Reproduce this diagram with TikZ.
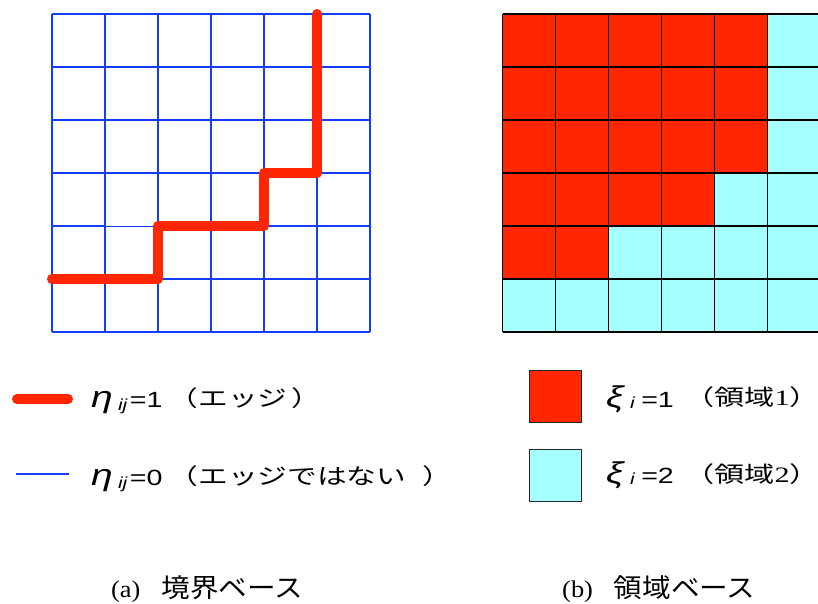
\documentclass[tikz,border=0pt]{standalone}
\usepackage{graphicx}
\usepackage{fontspec}
\setmainfont{Liberation Sans}
\newfontfamily\jpn{Noto Sans CJK JP}
\newfontfamily\srf{Liberation Serif}
\definecolor{gridblue}{RGB}{20,60,255}
\definecolor{edgered}{RGB}{255,38,0}
\definecolor{regcyan}{RGB}{166,255,255}
% #1 symbol, #2 subscript, #3 value, #4 gap after symbol, #5 gap after subscript, #6 subscript drop
\newcommand{\gsym}[6]{\scalebox{1.3}[1]{{\fontsize{30}{30}\selectfont\itshape #1}\hspace{#4}\raisebox{-#6}{\fontsize{16}{16}\selectfont\itshape #2}\hspace{#5}{\fontsize{22}{22}\selectfont =#3}}}
\newcommand{\jleg}[2]{\scalebox{#1}[1]{\fontsize{22}{22}\selectfont\jpn #2}}
\newcommand{\jcap}[2]{\scalebox{1.1}[1]{{\fontsize{24}{24}\selectfont\srf #1}\hspace{19pt}{\fontsize{26}{26}\selectfont\jpn #2}}}
\newcommand{\rpar}{\makebox[0.45em][l]{）}}
\tikzset{
  txt/.style={inner sep=0pt, anchor=base west},
  bluegrid/.style={gridblue, line width=2pt},
  blackgrid/.style={black, line width=1.3pt},
  edgepath/.style={edgered, line width=10pt, line cap=round, line join=round},
  swatch/.style={draw=black!85, line width=1pt, minimum size=52pt, inner sep=0pt}
}
\begin{document}
\begin{tikzpicture}[x=1pt,y=-1pt]
\useasboundingbox (0,0) rectangle (818,604);
% ---- left grid (boundary based)
\foreach \k in {0,...,6} {
  \draw[bluegrid] (52+53*\k,14) -- (52+53*\k,332);
}
\foreach \k in {0,1,2,3,5,6} {
  \draw[bluegrid] (52,14+53*\k) -- (370,14+53*\k);
}
\draw[bluegrid] (52,226) -- (105,226);
\draw[gridblue, line width=0.6pt] (105,226) -- (158,226);
\draw[bluegrid] (158,226) -- (370,226);
\draw[edgepath] (52,279) -- (158,279) -- (158,226) -- (264,226) -- (264,173) -- (317,173) -- (317,14);
% ---- right grid (region based)
\fill[regcyan] (502.5,14) rectangle (820.5,332);
\foreach \r/\n in {0/5,1/5,2/5,3/4,4/2} {
  \fill[edgered] (502.5,14+53*\r) rectangle ++(53*\n,53);
}
\foreach \k in {0,...,6} {
  \draw[blackgrid] (502.5+53*\k,14) -- (502.5+53*\k,332);
  \draw[blackgrid] (502.5,14+53*\k) -- (820.5,14+53*\k);
}
% ---- left legend
\coordinate (l1a) at (17,399);
\coordinate (l1b) at (68,399);
\draw[edgepath] (l1a) -- (l1b);
\coordinate (l2a) at (16,474);
\coordinate (l2b) at (69,474);
\draw[gridblue, line width=2pt] (l2a) -- (l2b);
\node[txt] (eta1) at (91,407) {\gsym{η}{ij}{1}{4pt}{2pt}{3pt}};
\node[txt] (jp1) at (168.5,406) {\jleg{1.35}{（エッジ\hspace{3pt}\rpar}};
\node[txt] (eta0) at (91,485) {\gsym{η}{ij}{0}{4pt}{2pt}{3pt}};
\node[txt] (jp0) at (168.5,484) {\jleg{1.35}{（エッジではない\hspace{12pt}\rpar}};
% ---- right legend
\node[swatch, fill=edgered] (sq1) at (555.5,396) {};
\node[swatch, fill=regcyan] (sq2) at (555.5,475.5) {};
\node[txt] (xi1) at (606,407) {\gsym{ξ}{i}{1}{5pt}{5pt}{1pt}};
\node[txt] (jr1) at (684,405) {\jleg{1.37}{（領域{\srf 1}\rpar}};
\node[txt] (xi2) at (606,483) {\gsym{ξ}{i}{2}{5pt}{5pt}{1pt}};
\node[txt] (jr2) at (684,482) {\jleg{1.37}{（領域{\srf 2}\rpar}};
% ---- captions
\node[txt] (capa) at (111,597) {\jcap{(a)}{境界ベース}};
\node[txt] (capb) at (562,597) {\jcap{(b)}{領域ベース}};
\end{tikzpicture}
\end{document}
